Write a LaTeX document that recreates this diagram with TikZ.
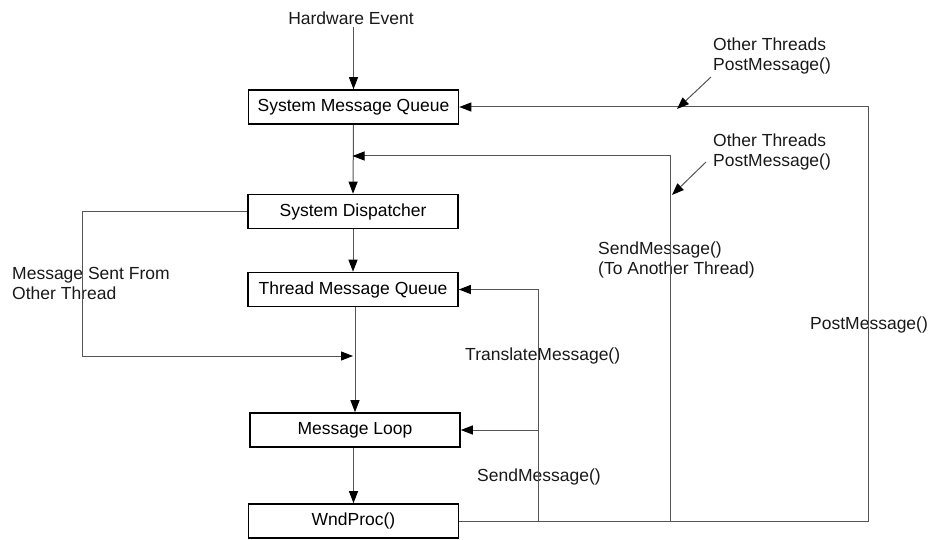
\documentclass[tikz,border=0pt]{standalone}
\usepackage{fontspec}
\setmainfont{Liberation Sans}
\usetikzlibrary{arrows.meta}
\definecolor{ln}{HTML}{555555}
\begin{document}
\begin{tikzpicture}[x=1pt,y=1pt,
  box/.style={draw=black,line width=1.6pt,minimum width=210pt,minimum height=34pt,inner sep=0pt,font=\fontsize{17.5}{20}\selectfont},
  lbl/.style={inner sep=0pt,align=left,anchor=west,font=\fontsize{17.5}{20}\selectfont,text=black!90},
  conn/.style={draw=ln,line width=1pt},
  arr/.style={conn,-{Triangle[length=12pt,width=9pt,black]}}]
\useasboundingbox (0,0) rectangle (934,-540);
% boxes
\node[box] (smq) at (353.5,-107) {System Message Queue};
\node[box] (sd) at (353,-211.5) {System Dispatcher};
\node[box] (tmq) at (353,-289.5) {Thread Message Queue};
\node[box] (ml) at (355,-430) {Message Loop};
\node[box] (wp) at (353.5,-521) {WndProc()};
% labels
\node[lbl,anchor=center] (hw) at (351,-18) {Hardware Event};
\node[lbl] (ot1) at (713,-56) {Other Threads\\PostMessage()};
\node[lbl] (ot2) at (713,-152) {Other Threads\\PostMessage()};
\node[lbl] (sm1) at (598,-260) {SendMessage()\\(To Another Thread)};
\node[lbl] (pm) at (810,-325) {PostMessage()};
\node[lbl] (tm) at (465,-356) {TranslateMessage()};
\node[lbl] (sm2) at (477,-477) {SendMessage()};
\node[lbl] (msf) at (12,-283) {Message Sent From\\Other Thread};
% coordinates
\coordinate (msl) at (82,-356);
\coordinate (mst) at (353,-356);
\coordinate (rc) at (868,-521);
\coordinate (m1) at (670,-521);
\coordinate (m1t) at (670,-156);
\coordinate (m1e) at (352.5,-156);
\coordinate (m2) at (538,-521);
\coordinate (m2b) at (538,-430);
\coordinate (d1s) at (711,-77);
\coordinate (d1e) at (677,-109);
\coordinate (d2s) at (706,-162);
\coordinate (d2e) at (672,-195);
% connectors
\draw[arr] ([yshift=-2pt]hw.south -| smq.north) -- (smq.north);
\draw[arr] (smq.south) -- (sd.north);
\draw[arr] (sd.south) -- (tmq.north);
\draw[arr] (tmq.south -| ml.north) -- (ml.north);
\draw[arr] (ml.south -| wp.north) -- (wp.north);
\draw[arr] (sd.west) -| (msl) -- (mst);
\draw[arr] (wp.east) -- (rc) |- (smq.east);
\draw[arr] (m1) -- (m1t) -- (m1e);
\draw[arr] (m2) |- (tmq.east);
\draw[arr] (m2b) -- (ml.east);
\draw[arr] (d1s) -- (d1e);
\draw[arr] (d2s) -- (d2e);
\end{tikzpicture}
\end{document}
